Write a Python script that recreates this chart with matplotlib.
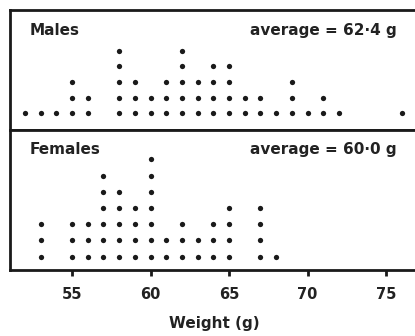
import matplotlib
matplotlib.use("Agg")
import matplotlib.pyplot as plt

weights = [52, 53, 54, 55, 56, 57, 58, 59, 60, 61, 62, 63, 64, 65, 66, 67, 68, 69, 70, 71, 72, 73, 74, 75, 76]
males   = [1, 1, 1, 3, 2, 0, 5, 3, 2, 3, 5, 3, 4, 4, 2, 2, 1, 3, 1, 2, 1, 0, 0, 0, 1]
females = [0, 3, 0, 3, 3, 6, 5, 4, 7, 2, 3, 2, 3, 4, 0, 4, 1, 0, 0, 0, 0, 0, 0, 0, 0]
panel_names = ["Males", "Females"]
averages = ["62·4", "60·0"]
xticks = [55, 60, 65, 70, 75]

W, H = 415, 336
fig = plt.figure(figsize=(W / 100, H / 100), dpi=100)

left = 10 / W
right = 419 / W
ax_m = fig.add_axes([left, 1 - 130 / H, right - left, 120 / H])
ax_f = fig.add_axes([left, 1 - 270 / H, right - left, 140 / H])

def draw(ax, counts, name, avg, bottom_px, spacing_px, height_px, label_y):
    xs, ys = [], []
    for w, c in zip(weights, counts):
        for k in range(1, c + 1):
            xs.append(w)
            ys.append(k)
    ax.plot(xs, ys, 'o', color='#1a1a1a', markersize=3.8, markeredgewidth=0)
    ax.set_xlim(51.05, 77.1)
    y0 = 1 - bottom_px / spacing_px
    y1 = 1 + (height_px - bottom_px) / spacing_px
    ax.set_ylim(y0, y1)
    ax.set_yticks([])
    for s in ax.spines.values():
        s.set_linewidth(2.0)
        s.set_color('#1a1a1a')
    ax.text(0.048, label_y, name, transform=ax.transAxes,
            fontsize=11, fontweight='bold', color='#222222', va='center', ha='left')
    ax.text(0.945, label_y, "average = " + avg + " g",
            transform=ax.transAxes, fontsize=11, fontweight='bold', color='#222222',
            va='center', ha='right')

draw(ax_m, males, panel_names[0], averages[0], 16.7, 15.65, 120, 0.83)
draw(ax_f, females, panel_names[1], averages[1], 13.5, 16.2, 140, 0.86)

ax_m.set_xticks([])
ax_f.set_xticks(xticks)
ax_f.set_xticklabels([str(t) for t in xticks], fontsize=10.5, fontweight='bold', color='#222222')
ax_f.tick_params(axis='x', direction='out', length=4, width=2, pad=8, color='#1a1a1a')
ax_f.set_xlabel("Weight (g)", fontsize=11, fontweight='bold', color='#222222', labelpad=10)

fig.savefig("out.png", dpi=100)
